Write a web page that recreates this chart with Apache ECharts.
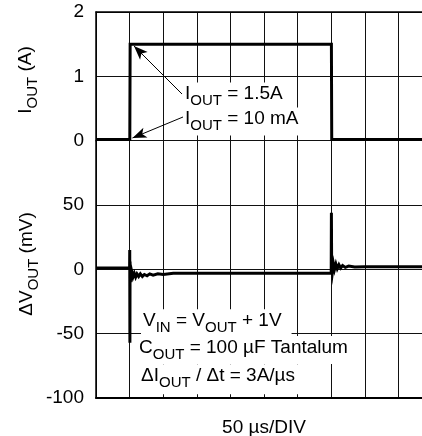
<!DOCTYPE html>
<html><head><meta charset="utf-8">
<script src="https://cdn.jsdelivr.net/npm/echarts@6/dist/echarts.min.js"></script>
<style>html,body{margin:0;padding:0;background:#fff}#c{width:422px;height:436px}</style>
</head><body><div id="c"></div>
<script>
const FONT = '"Liberation Sans", Arial, Helvetica, sans-serif';

// Output current trace (A) vs time (µs)
const timeI = [0, 50.3, 50.8, 350.3, 350.8, 500];
const currentA = [0.02, 0.02, 1.5, 1.5, 0.02, 0.02];

// Output voltage deviation trace (mV) vs time (µs)
const timeV = [0, 50.0, 50.2, 50.45, 50.7, 51.2, 51.8, 52.5, 53.5, 55, 57, 59, 61, 63.5, 66, 69, 72, 76, 80, 85, 92, 100, 115, 200, 300,
  350.0, 350.3, 350.7, 351.4, 352.2, 353.5, 355, 357, 359, 361.5, 364, 367, 371, 376, 385, 400, 500];
const deltaVmV = [1, 1, 15, -57, 6, -10, -1, -7, -2.5, -6, -3, -6, -3.5, -5.5, -3.5, -5.5, -4, -5, -3.5, -4.5, -3.5, -4, -3, -3, -3,
  -3, 44, -2, 5, -1, 4, 0, 4, 0.5, 3.5, 1, 3, 1.5, 2.5, 1.8, 2, 2];

// Axis ranges / ticks
const timeRange = [0, 500, 50];
const currentRange = [0, 2, 1];
const voltRange = [-100, 100, 50];
const hiddenVoltTick = 100;

// Annotation arrows (data coordinates: [time µs, current A])
const arrowHigh = [[128, 0.725], [56.5, 1.472]];
const arrowLow = [[129.5, 0.368], [54.3, 0.042]];

const R = {
  n: {fontSize: 19, fontFamily: FONT, color: '#000', lineHeight: 24, verticalAlign: 'top'},
  s: {fontSize: 15, fontFamily: FONT, color: '#000', verticalAlign: 'bottom'}
};

const chart = echarts.init(document.getElementById('c'), null, {renderer: 'canvas'});
const gridLine = {show: true, lineStyle: {color: '#111', width: 1, type: 'solid'}};
const lblStyle = {margin: 12, fontSize: 19, fontFamily: FONT, color: '#000'};

function txt(x, y, text, extra) {
  return {
    type: 'text', x: x, y: y, z: 100,
    style: Object.assign({text: text, rich: R, fill: '#000', align: 'left', verticalAlign: 'top',
      backgroundColor: '#fff', padding: [2, 3, 2, 2]}, extra || {})
  };
}

chart.setOption({
  animation: false,
  backgroundColor: '#fff',
  grid: [
    {left: 96, top: 12, width: 336, height: 128.67, outerBoundsMode: 'none', containLabel: false},
    {left: 96, top: 140.67, width: 336, height: 257.33, outerBoundsMode: 'none', containLabel: false}
  ],
  xAxis: [
    {gridIndex: 0, type: 'value', min: timeRange[0], max: timeRange[1], interval: timeRange[2], position: 'top',
      axisLine: {show: true, onZero: false, lineStyle: {color: '#000', width: 1.5}},
      axisTick: {show: false}, axisLabel: {show: false}, splitLine: gridLine},
    {gridIndex: 1, type: 'value', min: timeRange[0], max: timeRange[1], interval: timeRange[2], position: 'bottom',
      axisLine: {show: true, onZero: false, lineStyle: {color: '#000', width: 2}},
      axisTick: {show: false}, axisLabel: {show: false}, splitLine: gridLine,
      name: '50 µs/DIV', nameLocation: 'middle', nameGap: 20,
      nameTextStyle: {fontSize: 19, fontFamily: FONT, color: '#000'}}
  ],
  yAxis: [
    {gridIndex: 0, type: 'value', min: currentRange[0], max: currentRange[1], interval: currentRange[2],
      axisLine: {show: true, onZero: false, lineStyle: {color: '#000', width: 1.5}},
      axisTick: {show: false}, axisLabel: lblStyle, splitLine: gridLine},
    {gridIndex: 1, type: 'value', min: voltRange[0], max: voltRange[1], interval: voltRange[2],
      axisLine: {show: true, onZero: false, lineStyle: {color: '#000', width: 1.5}},
      axisTick: {show: false},
      axisLabel: Object.assign({}, lblStyle, {formatter: v => v === hiddenVoltTick ? '' : String(v)}),
      splitLine: gridLine}
  ],
  series: [
    {type: 'line', xAxisIndex: 0, yAxisIndex: 0, showSymbol: false, symbol: 'none',
      data: timeI.map((t, i) => [t, currentA[i]]),
      lineStyle: {color: '#000', width: 3, join: 'miter'}, z: 5,
      markLine: {silent: true, symbol: ['none', 'arrow'], symbolSize: [8, 14],
        lineStyle: {color: '#000', width: 1, type: 'solid'}, itemStyle: {color: '#000'}, label: {show: false},
        data: [
          [{coord: arrowHigh[0]}, {coord: arrowHigh[1]}],
          [{coord: arrowLow[0]}, {coord: arrowLow[1]}]
        ]}},
    {type: 'line', xAxisIndex: 1, yAxisIndex: 1, showSymbol: false, symbol: 'none',
      data: timeV.map((t, i) => [t, deltaVmV[i]]),
      lineStyle: {color: '#000', width: 3, join: 'miter'}, z: 5}
  ],
  graphic: [
    txt(183, 82.6, '{n|I}{s|OUT}{n| = 1.5A}'),
    txt(183, 107.6, '{n|I}{s|OUT}{n| = 10 mA}'),
    txt(141, 309.3, '{n|V}{s|IN}{n| = V}{s|OUT}{n| + 1V}', {padding: [2, 10, 2, 2]}),
    txt(137, 335.9, '{n|C}{s|OUT}{n| = 100 µF Tantalum}'),
    txt(139, 364.3, '{n|ΔI}{s|OUT}{n| / Δt = 3A/µs}', {padding: [2, 3, 4, 2]}),
    {type: 'text', x: 28.5, y: 80, rotation: Math.PI / 2, z: 100,
      style: {text: '{n|I}{s|OUT}{n| (A)}', rich: R, fill: '#000', align: 'center', verticalAlign: 'middle'}},
    {type: 'text', x: 29, y: 264, rotation: Math.PI / 2, z: 100,
      style: {text: '{n|ΔV}{s|OUT}{n| (mV)}', rich: R, fill: '#000', align: 'center', verticalAlign: 'middle'}}
  ]
});
</script></body></html>
